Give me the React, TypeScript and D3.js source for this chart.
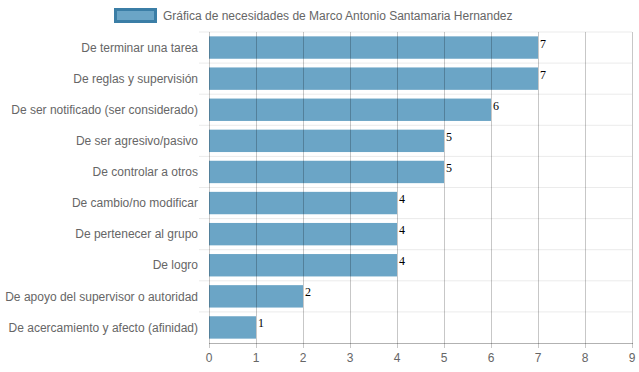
import React from "react";
import * as d3 from "d3";

const categories = [
  "De terminar una tarea",
  "De reglas y supervisión",
  "De ser notificado (ser considerado)",
  "De ser agresivo/pasivo",
  "De controlar a otros",
  "De cambio/no modificar",
  "De pertenecer al grupo",
  "De logro",
  "De apoyo del supervisor o autoridad",
  "De acercamiento y afecto (afinidad)",
];
const values = [7, 7, 6, 5, 5, 4, 4, 4, 2, 1];
const xTicks = [0, 1, 2, 3, 4, 5, 6, 7, 8, 9];
const legendLabel = "Gráfica de necesidades de Marco Antonio Santamaria Hernandez";

const width = 639;
const height = 372;
const margin = { top: 32, right: 7, bottom: 29, left: 209 };
const font = "Arial, 'Liberation Sans', Helvetica, sans-serif";

const App: React.FC = () => {
  const x = d3.scaleLinear().domain([0, 9]).range([margin.left, width - margin.right]);
  const y = d3
    .scaleBand<string>()
    .domain(categories)
    .range([margin.top, height - margin.bottom])
    .paddingInner(0.28)
    .paddingOuter(0.14);
  const step = y.step();
  const bottom = height - margin.bottom;

  return (
    <svg width={width} height={height} style={{ position: "absolute", left: 0, top: 0 }}>
      {/* legend */}
      <rect x={115.5} y={9.5} width={40} height={12} fill="#6ba5c6" stroke="#3b7ea6" strokeWidth={3} />
      <text x={163} y={20} fontFamily={font} fontSize={12} fill="#666">
        {legendLabel}
      </text>

      {/* horizontal grid */}
      {categories.map((c, i) => (
        <line key={c} x1={margin.left - 10} x2={x(9)} y1={margin.top + i * step} y2={margin.top + i * step} stroke="#ebebeb" />
      ))}

      {/* bars */}
      {values.map((v, i) => (
        <rect key={i} x={x(0)} y={y(categories[i])} width={x(v) - x(0)} height={y.bandwidth()} fill="#6ba5c6" />
      ))}

      {/* vertical grid */}
      {xTicks.map((t) => (
        <line key={t} x1={x(t) + 0.5} x2={x(t) + 0.5} y1={margin.top} y2={bottom + 5} stroke="rgba(0,0,0,0.22)" />
      ))}
      <line x1={x(0)} x2={x(9) + 1} y1={bottom + 0.5} y2={bottom + 0.5} stroke="rgba(0,0,0,0.3)" />

      {/* value labels */}
      {values.map((v, i) => (
        <text key={i} x={x(v) + 2} y={(y(categories[i]) ?? 0) + y.bandwidth() / 2} fontFamily="'Liberation Serif', 'Times New Roman', serif" fontSize={12} fill="#000">
          {v}
        </text>
      ))}

      {/* category labels */}
      {categories.map((c) => (
        <text key={c} x={margin.left - 11} y={(y(c) ?? 0) + y.bandwidth() / 2} dy="0.35em" textAnchor="end" fontFamily={font} fontSize={12} fill="#666">
          {c}
        </text>
      ))}

      {/* x tick labels */}
      {xTicks.map((t) => (
        <text key={t} x={x(t)} y={362} textAnchor="middle" fontFamily={font} fontSize={12} fill="#666">
          {t}
        </text>
      ))}
    </svg>
  );
};

export default App;
